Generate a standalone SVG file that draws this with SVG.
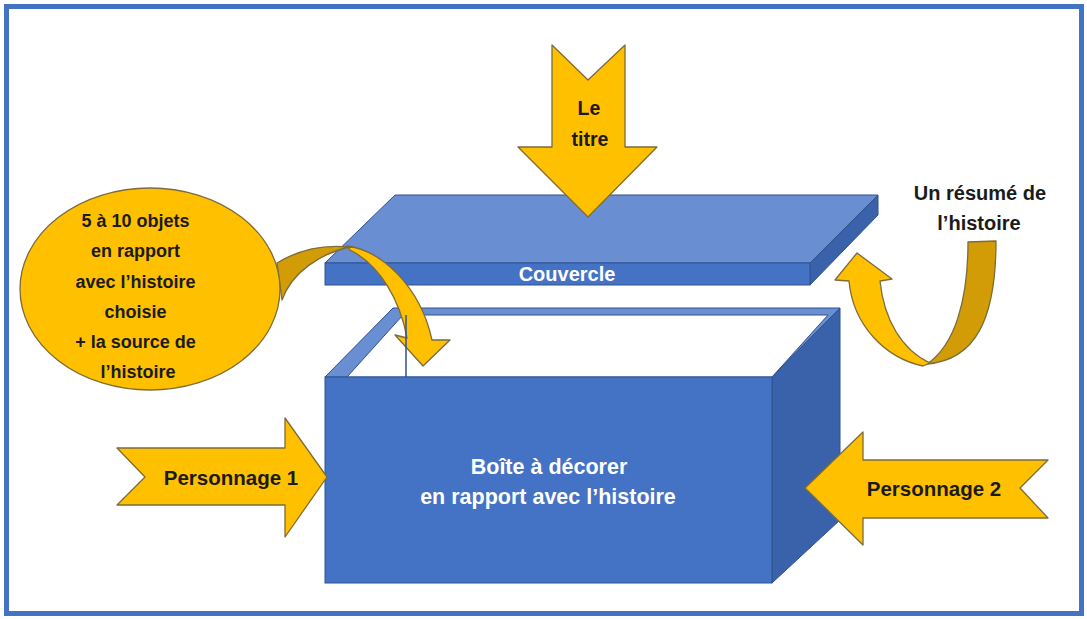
<svg xmlns="http://www.w3.org/2000/svg" width="1087" height="619" viewBox="0 0 1087 619">
  <defs>
    <style>
      .frame { fill: #ffffff; stroke: #4472C4; stroke-width: 5; }
      .gold { fill: #FFC000; stroke: #7D6B3A; stroke-width: 1.3; stroke-linejoin: round; }
      .gold-back { fill: #D19C06; stroke: #7D6B3A; stroke-width: 1.3; stroke-linejoin: round; }
      .face-front { fill: #4472C4; stroke: #2F528F; stroke-width: 1; }
      .face-top { fill: #6A8ED2; stroke: #2F528F; stroke-width: 1; }
      .face-side { fill: #3A62AA; stroke: #2F528F; stroke-width: 1; }
      .opening { fill: #ffffff; stroke: #2F528F; stroke-width: 1; }
      .edge { stroke: #2F528F; stroke-width: 1.5; fill: none; }
      text { font-family: "Liberation Sans", Arial, sans-serif; font-weight: bold; text-anchor: middle; }
      .dark { fill: #1b1b1b; }
      .light { fill: #ffffff; }
    </style>
  </defs>

  <!-- page frame -->
  <rect class="frame" x="6.5" y="6.5" width="1075" height="607"/>

  <!-- box -->
  <g id="box">
    <polygon class="face-top" points="325,377 393,308 840,308 772,377"/>
    <polygon class="opening" points="347,377 403,315 828,315 772,377"/>
    <polygon class="face-side" points="772,377 840,308 840,520 772,583"/>
    <rect class="face-front" x="325" y="377" width="447" height="206"/>
    <text class="light" x="549" y="474" font-size="21.5">Boîte à décorer</text>
    <text class="light" x="548" y="504" font-size="21.5">en rapport avec l’histoire</text>
  </g>

  <!-- lid -->
  <g id="lid">
    <polygon class="face-top" points="325,263 395,195 878,195 810,263"/>
    <polygon class="face-side" points="810,263 878,195 878,215 810,285"/>
    <rect class="face-front" x="325" y="263" width="485" height="22"/>
    <text class="light" x="567" y="281" font-size="20">Couvercle</text>
  </g>

  <g id="connectors">
    <!-- title arrow pointing down onto the lid -->
    <g id="title-arrow">
      <polygon class="gold" points="552,45 588,80 625,45 625,147 657,147 588,217 518,147 552,147"/>
      <text class="dark" x="589" y="115" font-size="19.5">Le</text>
      <text class="dark" x="590" y="146" font-size="19.5">titre</text>
    </g>

    <!-- curved arrow from the objects bubble into the box -->
    <g id="objects-arrow">
      <path class="gold-back" d="M 277 263 C 295 252, 320 244, 349 247 C 320 254, 292 272, 282 300 Z"/>
      <path class="gold" d="M 347 246 C 380 250, 420 285, 432 340 L 450 340 L 423 366 L 395 335 L 407 338 C 400 300, 380 265, 350 250 Z"/>
    </g>

    <!-- U-turn arrow from the summary up to the lid -->
    <g id="summary-arrow">
      <path class="gold-back" d="M 968 242 L 996 241 C 996 320, 975 360, 927 364 C 955 345, 968 300, 968 242 Z"/>
      <path class="gold" d="M 849 281 L 835 280 L 857 253 L 892 279 L 880 281 C 884 320, 902 350, 930 363 L 923 366 C 885 358, 853 325, 849 281 Z"/>
    </g>

    <!-- character arrows -->
    <g id="character1-arrow">
      <polygon class="gold" points="117,448 285,448 285,418 327,477 285,537 285,505 117,505 145,477"/>
      <text class="dark" x="231" y="485" font-size="20.5">Personnage 1</text>
    </g>
    <g id="character2-arrow">
      <polygon class="gold" points="1048,460 863,460 863,432 805,488 863,545 863,518 1048,518 1020,488"/>
      <text class="dark" x="934" y="496" font-size="20.5">Personnage 2</text>
    </g>
  </g>

  <!-- inner back edge of the box -->
  <line class="edge" x1="406" y1="315" x2="406" y2="377"/>

  <!-- objects bubble -->
  <g id="objects">
    <ellipse class="gold" cx="150" cy="289" rx="130" ry="101"/>
    <text class="dark" font-size="18">
      <tspan x="138" y="227">5 à 10 objets</tspan>
      <tspan x="138" y="257">en rapport</tspan>
      <tspan x="138" y="288">avec l’histoire</tspan>
      <tspan x="138" y="318">choisie</tspan>
      <tspan x="138" y="348">+ la source de</tspan>
      <tspan x="138" y="378">l’histoire</tspan>
    </text>
  </g>

  <!-- summary label -->
  <g id="summary">
    <text class="dark" x="980" y="200" font-size="20">Un résumé de</text>
    <text class="dark" x="979" y="230" font-size="20">l’histoire</text>
  </g>
</svg>
